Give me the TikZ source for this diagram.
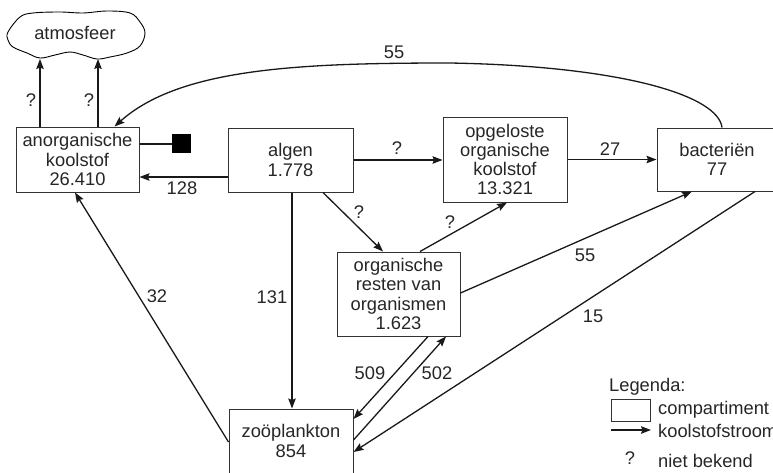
\documentclass[tikz,border=0pt]{standalone}
\usepackage{fontspec}
\setmainfont{Liberation Sans}
\usetikzlibrary{arrows.meta}
\begin{document}
\begin{tikzpicture}[x=1pt,y=-1pt,
  every node/.style={font=\fontsize{18.3}{19.3}\selectfont, inner sep=0pt, text=black!85},
  box/.style={draw=black!80, line width=1pt, align=center},
  lbl/.style={},
  ln/.style={line width=1.3pt, draw=black!90},
  arr/.style={ln, -{Stealth[length=10pt,width=7.5pt,inset=1.5pt]}}]
\useasboundingbox (0,0) rectangle (773,472);
% compartments
\node[box, minimum width=123pt, minimum height=65pt] (anorg) at (77.5,159.5) {anorganische\\koolstof\\26.410};
\node[box, minimum width=125pt, minimum height=64pt] (algen) at (290.5,160) {algen\\1.778};
\node[box, minimum width=124pt, minimum height=85pt] (opgel) at (505,159.5) {opgeloste\\organische\\koolstof\\13.321};
\node[box, minimum width=120pt, minimum height=63pt] (bact) at (717,159.5) {bacteriën\\77};
\node[box, minimum width=123pt, minimum height=84pt] (resten) at (398.5,294) {organische\\resten van\\organismen\\1.623};
\node[box, minimum width=124pt, minimum height=64pt] (zoo) at (291,441) {zoöplankton\\854};
\node[fill=black, minimum size=19pt] (sq) at (181.5,143) {};
% atmosphere cloud
\draw[line width=0.9pt] plot[smooth cycle, tension=0.6] coordinates {
  (8,32) (20,17) (33,13) (60,12) (83,13) (107,11) (130,13) (140,22) (145,33)
  (140,46) (127,53) (110,57) (97,59) (83,55) (70,52) (55,55) (40,58) (27,53) (13,47) (8,40)};
\node (atm) at (75,33) {atmosfeer};
\coordinate (c1) at (40,59);
\coordinate (c2) at (98,59);
% connectors
\draw[arr] ([xshift=-37.5pt]anorg.north) -- (c1);
\draw[arr] ([xshift=20.5pt]anorg.north) -- (c2);
\draw[ln] ([yshift=15.5pt]anorg.east) -- ([yshift=15.5pt]anorg.east -| sq.west);
\draw[arr] ([yshift=-17pt]algen.west) -- ([yshift=-17pt]algen.west -| anorg.east);
\draw[arr] ([xshift=5pt]bact.north) .. controls (718,95) and (620,66) .. (450,63)
  .. controls (300,63) and (180,68) .. ([xshift=37pt]anorg.north);
\draw[arr] (algen.east) -- (algen.east -| opgel.west);
\draw[arr] (opgel.east) -- (opgel.east -| bact.west);
\draw[arr] ([xshift=32.5pt]algen.south) -- ([xshift=-15.5pt]resten.north);
\draw[arr] ([xshift=21.5pt]resten.north) -- ([xshift=2pt]opgel.south);
\draw[arr] ([xshift=1.5pt]algen.south) -- ([xshift=1.5pt]algen.south |- zoo.north);
\draw[arr] ([yshift=-1pt]zoo.west) -- ([xshift=-2.5pt]anorg.south);
\draw[arr] ([xshift=29.5pt]resten.south) -- ([yshift=22pt]zoo.east);
\draw[arr] ([yshift=1pt]zoo.east) -- ([xshift=47.5pt]resten.south);
\draw[arr] ([xshift=38pt]bact.south) -- ([yshift=-11pt]zoo.east);
\draw[arr] ([yshift=1pt]resten.east) -- ([xshift=-25pt]bact.south);
% labels
\node[lbl] (q1) at (31,100) {?};
\node[lbl] (q2) at (89,100) {?};
\node[lbl] (l55a) at (394,52) {55};
\node[lbl] (l128) at (182,188) {128};
\node[lbl] (q3) at (397,148) {?};
\node[lbl] (l27) at (610,149) {27};
\node[lbl] (q4) at (359,212) {?};
\node[lbl] (q5) at (450,222) {?};
\node[lbl] (l131) at (272,297) {131};
\node[lbl] (l32) at (157,296) {32};
\node[lbl] (l55b) at (585,255) {55};
\node[lbl] (l15) at (593,316) {15};
\node[lbl] (l509) at (370,373) {509};
\node[lbl] (l502) at (437,373) {502};
% legend
\node[anchor=west] (leg) at (609,387) {Legenda:};
\node[draw=black!80, line width=1pt, minimum width=39pt, minimum height=22pt] (legbox) at (630.5,410) {};
\node[anchor=west] (legc) at (658,410) {compartiment};
\coordinate (la1) at (611,430);
\coordinate (la2) at (651,430);
\draw[arr] (la1) -- (la2);
\node[anchor=west] (legk) at (658,431) {koolstofstroom};
\node (legq) at (630,458) {?};
\node[anchor=west] (legn) at (658,461) {niet bekend};
\end{tikzpicture}
\end{document}
